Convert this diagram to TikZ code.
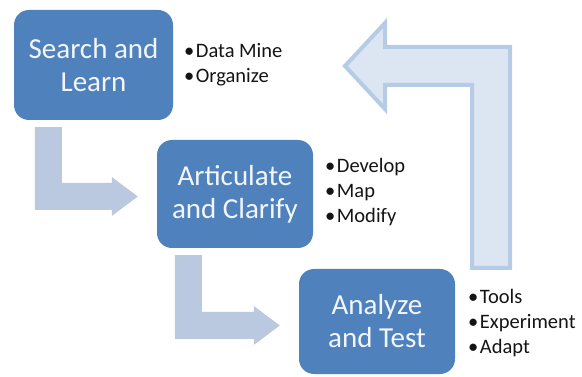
\documentclass[tikz,border=0pt]{standalone}
\usepackage{fontspec}
\setmainfont{Carlito}
\usetikzlibrary{calc}

\definecolor{boxblue}{RGB}{79,129,189}
\definecolor{boxtext}{RGB}{242,246,251}
\definecolor{bendfill}{RGB}{186,200,224}
\definecolor{retfill}{RGB}{220,230,242}
\definecolor{retline}{RGB}{182,203,229}
\definecolor{bullettext}{RGB}{20,20,20}

\newcommand{\bul}{\textbullet\hspace{1.5pt}}

\tikzset{
  stage/.style={rectangle, rounded corners=15pt, fill=boxblue, draw=none,
    text=boxtext, align=center, inner sep=0pt,
    font=\fontsize{29}{33}\selectfont},
  notes/.style={anchor=west, align=left, inner sep=0pt, text=bullettext,
    font=\fontsize{20.5}{25}\selectfont},
  bendarrow/.style={fill=bendfill, draw=none},
  returnarrow/.style={fill=retfill, draw=retline, line width=4pt, line join=miter}
}

\begin{document}
\begin{tikzpicture}[x=1pt, y=-1pt]
  \useasboundingbox (0,0) rectangle (582,377);

  % process stages
  \node[stage, minimum width=159pt, minimum height=110pt] (b1) at (93.5,65) {Search and\\Learn};
  \node[stage, minimum width=156pt, minimum height=108pt] (b2) at (235,194) {Articulate\\and Clarify};
  \node[stage, minimum width=156pt, minimum height=105pt] (b3) at (377,321.5) {Analyze\\and Test};

  % bullet notes beside each stage
  \node[notes] (n1) at (184,64.5) {\bul Data Mine\\\bul Organize};
  \node[notes] (n2) at (325,192) {\bul Develop\\\bul Map\\\bul Modify};
  \node[notes] (n3) at (468,323) {\bul Tools\\\bul Experiment\\\bul Adapt};

  % bent arrows leading from one stage down to the next
  \coordinate (a1s) at ($(b1.south west)+(21,7)$);
  \coordinate (a1e) at ($(b2.west)+(-19,2.5)$);
  \coordinate (a2s) at ($(b2.south west)+(18,7)$);
  \coordinate (a2e) at ($(b3.west)+(-19,4)$);
  \foreach \s/\e in {a1s/a1e, a2s/a2e}{
    \fill[bendarrow] let \p1=(\s), \p2=(\e) in
      (\x1,\y1) -- (\x1+27pt,\y1) -- (\x1+27pt,\y2+13.5pt) -- (\x2-26pt,\y2+13.5pt)
      -- (\x2-26pt,\y2+19.5pt) -- (\x2,\y2) -- (\x2-26pt,\y2-19.5pt)
      -- (\x2-26pt,\y2-13.5pt) -- (\x1,\y2-13.5pt) -- cycle;
  }

  % large return arrow from the last stage back to the first
  \coordinate (rtail) at (491,268);
  \coordinate (rtip) at (345,66);
  \draw[returnarrow] let \p1=(rtail), \p2=(rtip) in
    (\x1-19pt,\y1) -- (\x1-19pt,\y2-19pt) -- (\x2+40pt,\y2-19pt) -- (\x2+40pt,\y2-43pt)
    -- (\x2,\y2) -- (\x2+40pt,\y2+43pt) -- (\x2+40pt,\y2+19pt) -- (\x1+19pt,\y2+19pt)
    -- (\x1+19pt,\y1) -- cycle;
\end{tikzpicture}
\end{document}
